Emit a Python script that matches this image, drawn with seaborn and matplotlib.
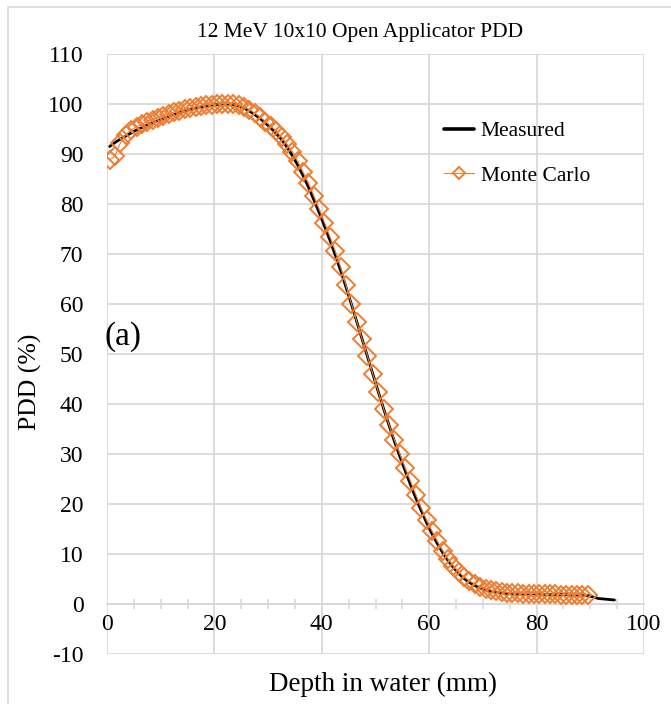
import matplotlib
matplotlib.use("Agg")
import matplotlib.pyplot as plt
import matplotlib.patches as mpatches
from matplotlib.ticker import MultipleLocator
import seaborn as sns
import pandas as pd

# ---- data ----
mc_depth = [0.5, 1.5, 2.5, 3.5, 4.5, 5.5, 6.5, 7.5, 8.5, 9.5,
            10.5, 11.5, 12.5, 13.5, 14.5, 15.5, 16.5, 17.5, 18.5, 19.5,
            20.5, 21.5, 22.5, 23.5, 24.5, 25.5, 26.5, 27.5, 28.5, 29.5,
            30.5, 31.5, 32.5, 33.5, 34.5, 35.5, 36.5, 37.5, 38.5, 39.5,
            40.5, 41.5, 42.5, 43.5, 44.5, 45.5, 46.5, 47.5, 48.5, 49.5,
            50.5, 51.5, 52.5, 53.5, 54.5, 55.5, 56.5, 57.5, 58.5, 59.5,
            60.5, 61.5, 62.5, 63.5, 64.5, 65.5, 66.5, 67.5, 68.5, 69.5,
            70.5, 71.5, 72.5, 73.5, 74.5, 75.5, 76.5, 77.5, 78.5, 79.5,
            80.5, 81.5, 82.5, 83.5, 84.5, 85.5, 86.5, 87.5, 88.5, 89.5]
mc_pdd = [88.8, 89.6, 92.3, 93.9, 94.8, 95.4, 96.0, 96.5, 96.9, 97.3,
          97.7, 98.0, 98.4, 98.7, 99.0, 99.2, 99.4, 99.6, 99.8, 99.9,
          100.0, 100.1, 100.1, 100.0, 99.8, 99.4, 98.9, 98.2, 97.4, 96.5,
          95.6, 94.6, 93.4, 92.0, 90.5, 88.6, 86.4, 84.2, 81.7, 79.0,
          76.3, 73.5, 70.6, 67.4, 63.8, 60.1, 56.5, 53.0, 49.6, 46.0,
          42.5, 39.1, 35.9, 32.9, 30.1, 27.3, 24.6, 21.9, 19.2, 16.8,
          14.6, 12.6, 10.7, 9.0, 7.6, 6.4, 5.4, 4.6, 4.0, 3.5,
          3.1, 2.8, 2.6, 2.4, 2.3, 2.2, 2.2, 2.1, 2.1, 2.1,
          2.0, 2.0, 2.0, 2.0, 1.9, 1.9, 1.9, 1.9, 1.8, 1.8]

meas_depth = [0.5, 1.5, 2.5, 3.5, 4.5, 5.5, 6.5, 7.5, 8.5, 9.5,
              10.5, 11.5, 12.5, 13.5, 14.5, 15.5, 16.5, 17.5, 18.5, 19.5,
              20.5, 21.5, 22.5, 23.5, 24.5, 25.5, 26.5, 27.5, 28.5, 29.5,
              30.5, 31.5, 32.5, 33.5, 34.5, 35.5, 36.5, 37.5, 38.5, 39.5,
              40.5, 41.5, 42.5, 43.5, 44.5, 45.5, 46.5, 47.5, 48.5, 49.5,
              50.5, 51.5, 52.5, 53.5, 54.5, 55.5, 56.5, 57.5, 58.5, 59.5,
              60.5, 61.5, 62.5, 63.5, 64.5, 65.5, 66.5, 67.5, 68.5, 69.5,
              70.5, 71.5, 72.5, 73.5, 74.5, 75.5, 76.5, 77.5, 78.5, 79.5,
              80.5, 81.5, 82.5, 83.5, 84.5, 85.5, 86.5, 87.5, 88.5, 89.5,
              90.5, 91.5, 92.5, 93.5, 94.5]
meas_pdd = [91.5, 92.3, 93.0, 93.6, 94.2, 94.8, 95.3, 95.8, 96.3, 96.7,
            97.1, 97.5, 97.9, 98.3, 98.6, 98.9, 99.2, 99.4, 99.6, 99.8,
            99.9, 100.0, 100.0, 99.9, 99.6, 99.2, 98.6, 97.9, 97.1, 96.2,
            95.2, 94.1, 92.9, 91.4, 89.7, 87.8, 85.7, 83.4, 80.9, 78.3,
            75.6, 72.8, 69.8, 66.7, 63.4, 60.0, 56.5, 53.0, 49.5, 46.0,
            42.5, 39.1, 35.8, 32.6, 29.6, 26.7, 23.9, 21.2, 18.7, 16.3,
            14.1, 12.1, 10.3, 8.7, 7.3, 6.1, 5.1, 4.3, 3.7, 3.2,
            2.8, 2.5, 2.3, 2.2, 2.1, 2.0, 2.0, 2.0, 2.0, 2.0,
            2.0, 1.9, 1.9, 1.9, 1.9, 1.9, 1.8, 1.8, 1.8, 1.7,
            1.4, 1.1, 1.0, 0.9, 0.8]

x_ticks = [0, 20, 40, 60, 80, 100]
y_ticks = [-10, 0, 10, 20, 30, 40, 50, 60, 70, 80, 90, 100, 110]

title = "12 MeV 10x10 Open Applicator PDD"
xlabel = "Depth in water (mm)"
ylabel = "PDD (%)"
panel_label = "(a)"

meas_df = pd.DataFrame({"depth": meas_depth, "pdd": meas_pdd})
mc_df = pd.DataFrame({"depth": mc_depth, "pdd": mc_pdd})

# ---- style ----
sns.set_theme(style="white")
plt.rcParams["font.family"] = ["Liberation Serif", "DejaVu Serif"]

W, H = 671, 704
fig = plt.figure(figsize=(W / 100, H / 100), dpi=100)
ax = fig.add_axes([107 / W, 1 - 654 / H, (644 - 107) / W, (654 - 54) / H])

grid_c = "#d9d9d9"
orange = "#ED7D31"

# outer chart border
fig.patches.append(mpatches.Rectangle((8 / W, -0.05), 2.0, 1 - 7 / H + 0.05,
                                      transform=fig.transFigure, fill=False,
                                      edgecolor=grid_c, linewidth=1.2, zorder=0))

sns.lineplot(data=meas_df, x="depth", y="pdd", ax=ax, color="black",
             linewidth=2.0, label="Measured", sort=False, zorder=3)
sns.lineplot(data=mc_df, x="depth", y="pdd", ax=ax, color=orange,
             linewidth=0.8, marker="D", markersize=9.5,
             markerfacecolor="none", markeredgecolor=orange,
             markeredgewidth=1.4, label="Monte Carlo", sort=False, zorder=4)

ax.set_xlim(0, 100)
ax.set_ylim(-10, 110)
ax.set_xticks(x_ticks)
ax.set_yticks(y_ticks)
ax.set_xticklabels([str(t) for t in x_ticks])
ax.set_yticklabels([str(t) for t in y_ticks])
ax.xaxis.set_minor_locator(MultipleLocator(5))

ax.grid(True, which="major", color=grid_c, linewidth=1.3)
ax.set_axisbelow(True)
for s in ["top", "right", "left"]:
    ax.spines[s].set_visible(False)
ax.spines["bottom"].set_position(("data", 0))
ax.spines["bottom"].set_color(grid_c)
ax.spines["bottom"].set_linewidth(1.3)

ax.tick_params(axis="x", which="major", length=0, pad=7, labelsize=17, colors="black")
ax.tick_params(axis="x", which="minor", length=7, width=1.2, direction="inout",
               color=grid_c, bottom=True)
ax.tick_params(axis="y", which="major", length=0, pad=17, labelsize=17, colors="black")

ax.set_xlabel(xlabel, fontsize=19.5, color="black")
ax.xaxis.label.set_va("center")
ax.xaxis.set_label_coords((383 - 107) / 537, (654 - 684) / 600)
ax.set_ylabel(ylabel, fontsize=18.5, color="black")
ax.yaxis.label.set_va("center")
ax.yaxis.set_label_coords((30 - 107) / 537, (654 - 382) / 600)

fig.text(360 / W, 1 - 32 / H, title, ha="center", va="center", fontsize=15.5, color="black")
ax.text(-0.5, 53.5, panel_label, ha="left", va="center", fontsize=24, color="black")

leg = ax.legend(loc="upper left", bbox_to_anchor=((444 - 107) / 537, (654 - 121) / 600),
                frameon=False, fontsize=15.5, handlelength=1.4, handletextpad=0.3,
                labelspacing=1.15, borderaxespad=0, borderpad=0, markerscale=0.6)
for t in leg.get_texts():
    t.set_color("black")
for h in leg.get_lines():
    if h.get_color() == "black":
        h.set_linewidth(2.6)

fig.savefig("out.png", dpi=100)
